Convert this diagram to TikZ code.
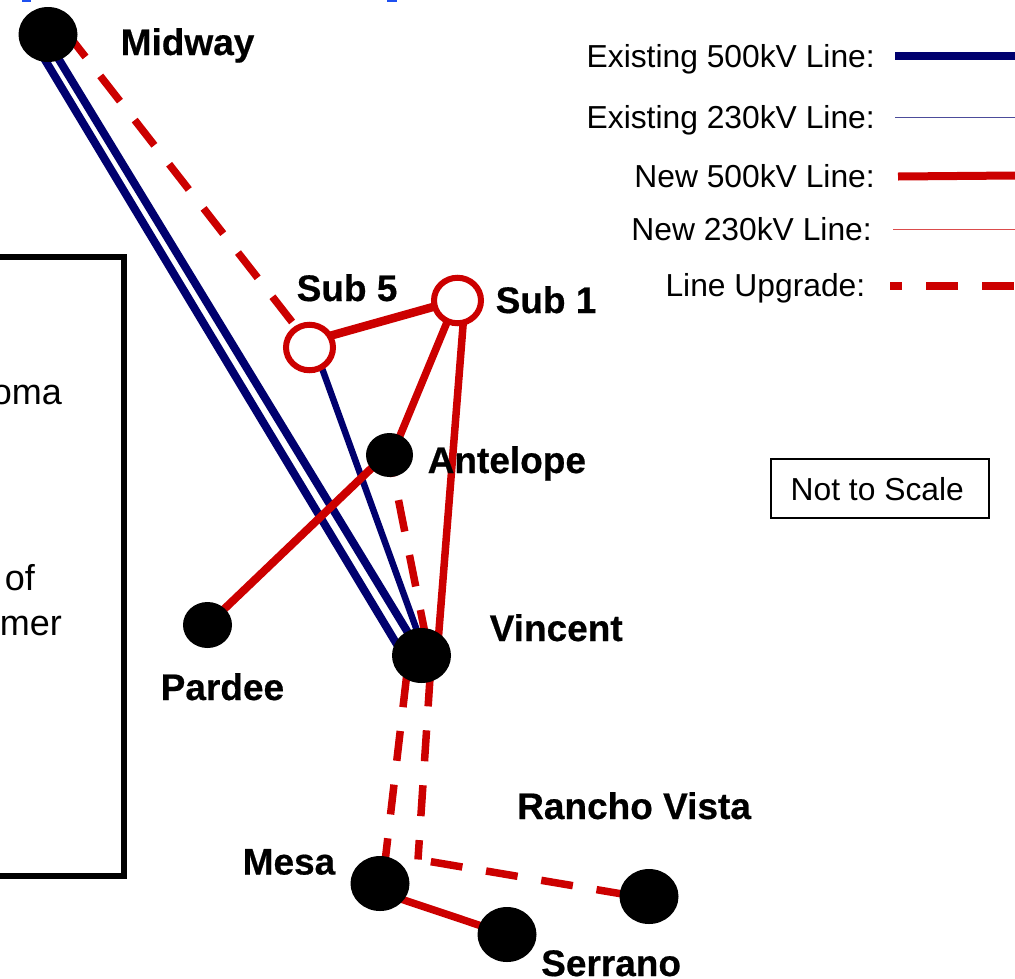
\documentclass[tikz,border=0pt]{standalone}
\usepackage{fontspec}
\setmainfont{Liberation Sans}
\newfontfamily\labfont[UprightFont=* Bold,FakeBold=0.5]{Liberation Sans}
\usetikzlibrary{shapes.geometric,backgrounds}
\definecolor{navyline}{RGB}{0,0,110}
\definecolor{redline}{RGB}{204,0,0}
\definecolor{markblue}{RGB}{30,80,240}
\tikzset{
  x=1pt,y=-1pt,
  station/.style={ellipse,fill=black,inner sep=0pt,outer sep=0pt},
  bigstation/.style={station,minimum width=59pt,minimum height=55pt},
  newsub/.style={ellipse,draw=redline,line width=6pt,fill=white,inner sep=0pt,outer sep=0pt,minimum width=47pt,minimum height=45.5pt},
  lab/.style={anchor=base west,inner sep=0pt,font=\labfont\fontsize{37}{37}\selectfont},
  legend/.style={anchor=base east,inner sep=0pt,font=\fontsize{31.8}{32}\selectfont},
  boxtext/.style={anchor=base east,inner sep=0pt,font=\fontsize{36}{36}\selectfont},
  exist/.style={draw=navyline,line width=8pt},
  existthin/.style={draw=navyline,line width=6.5pt},
  newline/.style={draw=redline,line width=7.5pt},
  upgrade/.style={draw=redline,line width=7.5pt},
}
\begin{document}
\begin{tikzpicture}
\useasboundingbox (0,0) rectangle (1015,978);
\clip (0,0) rectangle (1015,978);
% top marks
\fill[markblue] (22,0) rectangle (31,2);
\fill[markblue] (387,0) rectangle (397,2);
% stations
\node[bigstation] (midway) at (48,34.5) {};
\node[bigstation] (vincent) at (421.5,655.5) {};
\node[bigstation] (mesa) at (380,883.5) {};
\node[bigstation] (serrano) at (507,934.5) {};
\node[bigstation] (rancho) at (649,896.5) {};
\node[station,minimum width=47pt,minimum height=44pt] (antelope) at (389.5,455) {};
\node[station,minimum width=49pt,minimum height=46pt] (pardee) at (207.5,625) {};
\node[newsub] (sub5) at (309.5,347.5) {};
\node[newsub] (sub1) at (457.5,300.5) {};
\coordinate (bend) at (418,859.5);
% connectors
\begin{pgfonlayer}{background}
\draw[exist] ([xshift=-18.3pt]midway.center) -- ([xshift=-17.9pt]vincent.center);
\draw[exist] ([xshift=-4.3pt]midway.center) -- ([xshift=0.4pt]vincent.center);
\draw[existthin] ([xshift=5pt]sub5.center) -- ([xshift=4.5pt]vincent.center);
\draw[upgrade,dash pattern=on 32pt off 24pt,dash phase=3.5pt] ([xshift=20pt]midway.center) -- ([xshift=2.5pt]sub5.center);
\draw[newline,line width=8.5pt] ([yshift=5.9pt]sub5.center) -- ([yshift=0.4pt]sub1.center);
\draw[newline] ([xshift=-1.5pt]sub1.center) -- ([xshift=2.5pt]antelope.center);
\draw[newline] ([xshift=7.5pt]sub1.center) -- ([xshift=15.5pt]vincent.center);
\draw[newline,line width=8pt] ([yshift=4pt]antelope.center) -- (pardee.center);
\draw[upgrade,dash pattern=on 32pt off 24pt,dash phase=10pt] (antelope.center) -- ([xshift=8pt]vincent.center);
\draw[upgrade,dash pattern=on 30pt off 24pt,dash phase=32pt] ([xshift=-12.5pt]vincent.center) -- ([xshift=2.5pt]mesa.center);
\draw[upgrade,dash pattern=on 31pt off 24pt,dash phase=35pt] ([xshift=10pt]vincent.center) -- (bend);
\draw[upgrade,dash pattern=on 32pt off 24pt,dash phase=43pt] (bend) -- ([yshift=-2pt]rancho.center);
\draw[newline] ([yshift=-8.5pt]mesa.center) -- (serrano.center);
\end{pgfonlayer}
% labels
\node[lab] (lmidway) at (120.5,55) {Midway};
\node[lab] (lsub5) at (296.5,301) {Sub 5};
\node[lab] (lsub1) at (495.5,313) {Sub 1};
\node[lab] (lantelope) at (427.5,473) {Antelope};
\node[lab] (lvincent) at (489.5,641) {Vincent};
\node[lab] (lpardee) at (160.5,700) {Pardee};
\node[lab] (lmesa) at (242.5,874.5) {Mesa};
\node[lab] (lrancho) at (517,819) {Rancho Vista};
\node[lab] (lserrano) at (541,976) {Serrano};
% legend
\node[legend] (t1) at (875,67) {Existing 500kV Line:};
\node[legend] (t2) at (875,128) {Existing 230kV Line:};
\node[legend] (t3) at (875,187) {New 500kV Line:};
\node[legend] (t4) at (872,240.5) {New 230kV Line:};
\node[legend] (t5) at (865.5,296) {Line Upgrade:};
\coordinate (a1) at (895,56); \coordinate (b1) at (1015,56);
\coordinate (a2) at (895,117.5); \coordinate (b2) at (1015,117.5);
\coordinate (a3) at (898,176.5); \coordinate (b3) at (1015,175.5);
\coordinate (a4) at (893,229.5); \coordinate (b4) at (1015,229.5);
\coordinate (a5) at (890,285.5); \coordinate (b5) at (1015,285.5);
\draw[navyline,line width=8.5pt] (a1) -- (b1);
\draw[navyline!70,line width=1pt] (a2) -- (b2);
\draw[redline,line width=8pt] (a3) -- (b3);
\draw[redline!70,line width=1pt] (a4) -- (b4);
\draw[redline,line width=8pt,dash pattern=on 32pt off 24pt,dash phase=20pt] (a5) -- (b5);
% not-to-scale box
\node[draw=black,line width=2pt,minimum width=218pt,minimum height=59pt,inner sep=0pt] (scale) at (879.5,488) {};
\node[anchor=base west,inner sep=0pt,font=\fontsize{31.8}{32}\selectfont] (scaletext) at (790.5,500) {Not to Scale};
% clipped text box
\draw[black,line width=6pt] (-10,257) -- (123.5,257) -- (123.5,875.5) -- (-10,875.5);
\node[boxtext] (toma) at (62,404) {oma};
\node[boxtext] (tof) at (35,590) {of};
\node[boxtext] (tmer) at (62,635) {mer};
\end{tikzpicture}
\end{document}
